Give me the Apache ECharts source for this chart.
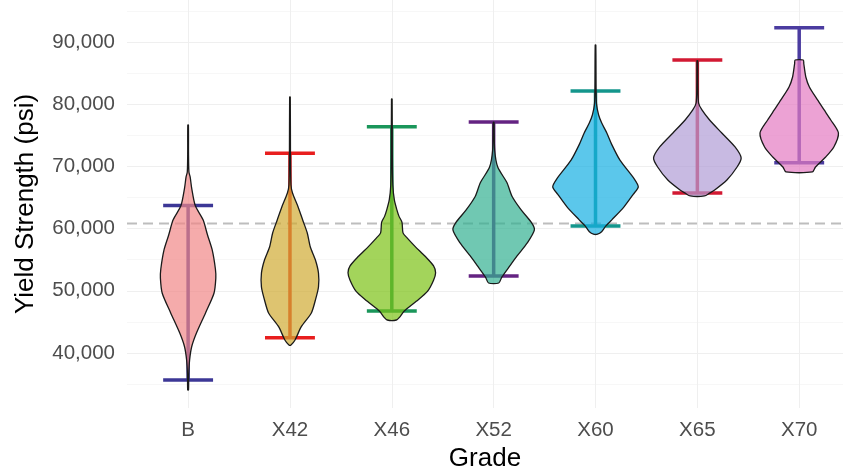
<!DOCTYPE html>
<html>
<head>
<meta charset="utf-8">
<script src="https://cdn.jsdelivr.net/npm/echarts@6/dist/echarts.min.js"></script>
<style>
  html, body { margin: 0; padding: 0; background: #ffffff; }
  #chart { width: 843px; height: 472px; }
</style>
</head>
<body>
<div id="chart"></div>
<script>
// Pipe grades on the category axis
const grades = ['B', 'X42', 'X46', 'X52', 'X60', 'X65', 'X70'];

// Tick values of the yield-strength axis
const yTicks = [40000, 50000, 60000, 70000, 80000, 90000];
const yMinorTicks = [35000, 45000, 55000, 65000, 75000, 85000, 95000];

// Min / max whiskers per grade (psi)
const rangeLow  = [35660, 42460, 46750, 52380, 60420, 65720, 70600];
const rangeHigh = [63700, 72100, 76390, 77140, 82120, 87100, 92300];

// Horizontal reference level (psi)
const referenceLine = 60800;

// Density profiles: [yield strength, half-width in category steps], bottom to top
const violinB = [
  [34050, 0.004], [36500, 0.006], [38900, 0.015], [41000, 0.035], [43200, 0.082],
  [46400, 0.17], [49600, 0.254], [52000, 0.272], [53500, 0.268], [56600, 0.236],
  [59000, 0.19], [61400, 0.147], [63700, 0.07], [66500, 0.035], [68300, 0.02],
  [69100, 0.008], [72000, 0.004], [76650, 0.003]
];
const violinX42 = [
  [41290, 0.01], [42090, 0.05], [44180, 0.11], [46430, 0.21], [48520, 0.25],
  [50610, 0.28], [52860, 0.28], [54950, 0.25], [57040, 0.2], [59290, 0.17],
  [61380, 0.125], [63470, 0.08], [65720, 0.025], [67000, 0.01], [72000, 0.005],
  [81160, 0.003]
];
const violinX46 = [
  [45300, 0.045], [45800, 0.08], [46700, 0.12], [48300, 0.24], [49900, 0.35],
  [51700, 0.41], [52900, 0.43], [54000, 0.41], [55500, 0.33], [57100, 0.23],
  [58500, 0.15], [59300, 0.11], [61000, 0.1], [62000, 0.07], [63000, 0.05],
  [64600, 0.025], [67000, 0.01], [72000, 0.005], [80840, 0.003]
];
const violinX52 = [
  [51250, 0.05], [52200, 0.08], [53800, 0.15], [55600, 0.23], [57700, 0.33],
  [59800, 0.4], [61000, 0.37], [63000, 0.27], [65200, 0.18], [67400, 0.13],
  [69900, 0.04], [72600, 0.01], [77100, 0.003]
];
const violinX60 = [
  [59100, 0.02], [59500, 0.06], [60400, 0.1], [61400, 0.16], [63500, 0.28],
  [65500, 0.37], [66700, 0.42], [68000, 0.38], [71000, 0.24], [73500, 0.16],
  [75400, 0.11], [77000, 0.06], [78300, 0.03], [80000, 0.01], [82000, 0.006],
  [89500, 0.003]
];
const violinX65 = [
  [65240, 0.07], [65700, 0.12], [66200, 0.17], [67810, 0.29], [69900, 0.39],
  [71350, 0.43], [73120, 0.37], [75370, 0.24], [77460, 0.12], [79070, 0.045],
  [80190, 0.012], [83000, 0.005], [87000, 0.003]
];
const violinX70 = [
  [69100, 0.13], [69900, 0.16], [71510, 0.26], [73120, 0.34], [75370, 0.385],
  [77460, 0.31], [79070, 0.245], [80680, 0.18], [82770, 0.1], [84370, 0.065],
  [86500, 0.045], [87100, 0.04]
];

const violins = [violinB, violinX42, violinX46, violinX52, violinX60, violinX65, violinX70];

// Colours
const fillColors = ['#f18888', '#d0ab33', '#7cc216', '#33b091', '#16afe2', '#b09dd6', '#e47ac2'];
const rangeColors = ['#3c3796', '#e81e1e', '#1a965a', '#642382', '#14968c', '#d21932', '#4b3ca0'];

const FONT = '"Liberation Sans", Arial, Helvetica, sans-serif';
const chart = echarts.init(document.getElementById('chart'), null, { renderer: 'canvas' });

const indexData = grades.map((g, i) => [i]);

function renderReference(params, api) {
  const cs = params.coordSys;
  const y = api.coord([0, referenceLine])[1];
  return {
    type: 'line',
    shape: { x1: cs.x, y1: y, x2: cs.x + cs.width, y2: y },
    style: { stroke: '#bdbdbd', lineWidth: 2, lineDash: [10, 6] }
  };
}

function renderRange(params, api) {
  const i = api.value(0);
  const unit = api.size([1, 0])[0];
  const lo = api.coord([i, rangeLow[i]]);
  const hi = api.coord([i, rangeHigh[i]]);
  const half = 0.245 * unit;
  const style = { stroke: rangeColors[i], lineWidth: 3.5 };
  return {
    type: 'group',
    children: [
      { type: 'line', shape: { x1: lo[0], y1: lo[1], x2: hi[0], y2: hi[1] }, style },
      { type: 'line', shape: { x1: lo[0] - half, y1: lo[1], x2: lo[0] + half, y2: lo[1] }, style },
      { type: 'line', shape: { x1: hi[0] - half, y1: hi[1], x2: hi[0] + half, y2: hi[1] }, style }
    ]
  };
}

function renderViolin(params, api) {
  const i = api.value(0);
  const unit = api.size([1, 0])[0];
  const right = [];
  const left = [];
  violins[i].forEach(([v, w]) => {
    const c = api.coord([i, v]);
    right.push([c[0] + w * unit, c[1]]);
    left.unshift([c[0] - w * unit, c[1]]);
  });
  return {
    type: 'polygon',
    shape: { points: right.concat(left), smooth: 0.25 },
    style: { fill: fillColors[i], fillOpacity: 0.7, stroke: '#1a1a1a', strokeOpacity: 1, lineWidth: 1.3 }
  };
}

const option = {
  animation: false,
  backgroundColor: '#ffffff',
  grid: { left: 127, right: 0, top: 0, height: 408, outerBoundsMode: 'none', containLabel: false },
  xAxis: {
    type: 'value',
    min: -0.6,
    max: 6.43,
    name: 'Grade',
    nameLocation: 'middle',
    nameGap: 34,
    nameTextStyle: { fontFamily: FONT, fontSize: 26, color: '#000000' },
    axisLine: { show: false },
    axisTick: { show: false, customValues: grades.map((g, i) => i) },
    axisLabel: {
      customValues: grades.map((g, i) => i),
      formatter: v => grades[Math.round(v)],
      fontFamily: FONT, fontSize: 20.5, color: '#4d4d4d', margin: 12
    },
    splitLine: { show: true, lineStyle: { color: '#efefef', width: 1 } }
  },
  yAxis: [{
    type: 'value',
    min: 31150,
    max: 96750,
    name: 'Yield Strength (psi)',
    nameLocation: 'middle',
    nameGap: 88,
    nameTextStyle: { fontFamily: FONT, fontSize: 26, color: '#000000' },
    axisLine: { show: false },
    axisTick: { show: false, customValues: yTicks },
    axisLabel: {
      customValues: yTicks,
      formatter: v => v.toLocaleString('en-US'),
      fontFamily: FONT, fontSize: 20.5, color: '#4d4d4d', margin: 12
    },
    splitLine: { show: true, lineStyle: { color: '#efefef', width: 1 } }
  }, {
    type: 'value',
    min: 31150,
    max: 96750,
    position: 'left',
    axisLine: { show: false },
    axisTick: { show: false, customValues: yMinorTicks },
    axisLabel: { show: false, customValues: yMinorTicks },
    splitLine: { show: true, lineStyle: { color: '#f7f7f7', width: 1 } }
  }],
  series: [
    { type: 'custom', name: 'reference', renderItem: renderReference, data: [[0]], z: 1, silent: true },
    { type: 'custom', name: 'range', renderItem: renderRange, data: indexData, z: 2, silent: true },
    { type: 'custom', name: 'density', renderItem: renderViolin, data: indexData, z: 3, silent: true }
  ]
};

chart.setOption(option);
</script>
</body>
</html>
